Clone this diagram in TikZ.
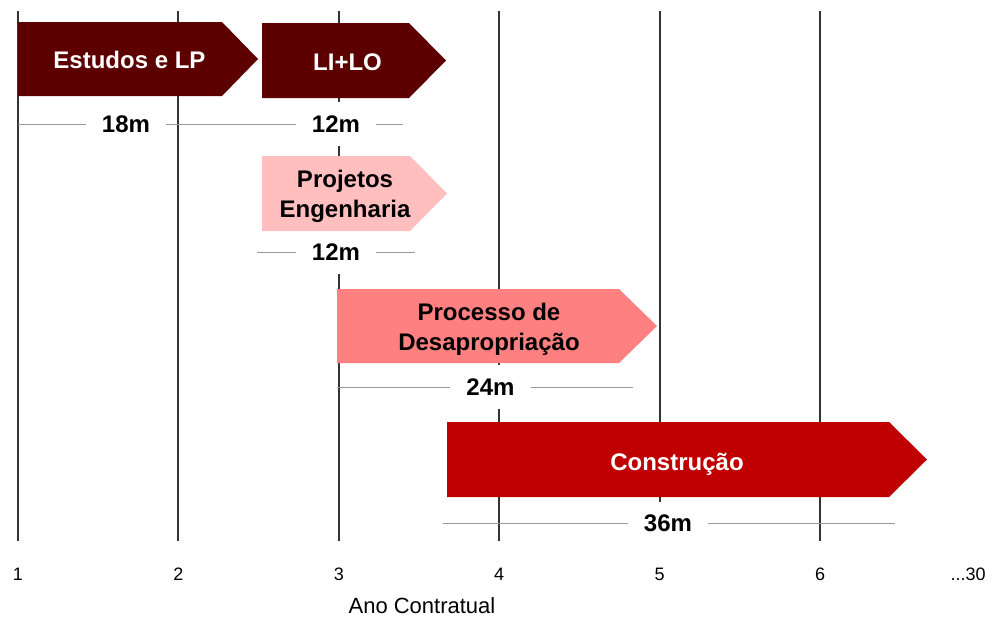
\documentclass[tikz,border=0pt]{standalone}
\usepackage{fontspec}
\setmainfont{Liberation Sans}
\usetikzlibrary{positioning}
\definecolor{wine}{HTML}{5C0000}
\definecolor{blush}{HTML}{FFBFBF}
\definecolor{salmon}{HTML}{FF8080}
\definecolor{crimson}{HTML}{C00000}
\definecolor{gridgray}{HTML}{333333}

\begin{document}
\begin{tikzpicture}[
    x=1pt, y=-1pt,
    gridline/.style={draw=gridgray, line width=2pt},
    durline/.style={draw=black!40, line width=0.8pt},
    phase/.style={align=center, font=\fontsize{24}{30}\selectfont\bfseries},
    dur/.style={fill=white, inner xsep=16pt, inner ysep=0pt,
                minimum height=44pt, font=\fontsize{24}{30}\selectfont\bfseries},
    yearlbl/.style={anchor=base, font=\fontsize{18}{20}\selectfont}
  ]
  \useasboundingbox (0,0) rectangle (995,619);

  % year grid
  \foreach \k in {1,...,6}
    \draw[gridline] ({18+160.4*(\k-1)},11) -- ({18+160.4*(\k-1)},541);

  % axis labels
  \foreach \k in {1,...,6}
    \node[yearlbl] (year\k) at ({18+160.4*(\k-1)},580) {\k};
  \node[yearlbl] (yearend) at (968,580) {...30};
  \node[anchor=base, font=\fontsize{22}{24}\selectfont] (axis) at (422,613)
        {Ano Contratual};

  % durations
  \coordinate (d18a) at (18,124);  \coordinate (d18b) at (258,124);
  \coordinate (d12a) at (258,124); \coordinate (d12b) at (403,124);
  \coordinate (e12a) at (257,252); \coordinate (e12b) at (415,252);
  \coordinate (d24a) at (337,387); \coordinate (d24b) at (633,387);
  \coordinate (d36a) at (443,523.5); \coordinate (d36b) at (895,523.5);
  \draw[durline] (d18a) -- (d18b);
  \draw[durline] (d12a) -- (d12b);
  \draw[durline] (e12a) -- (e12b);
  \draw[durline] (d24a) -- (d24b);
  \draw[durline] (d36a) -- (d36b);
  \node[dur] (m18)  at (126,124)   {18m};
  \node[dur] (m12)  at (336,124)   {12m};
  \node[dur] (n12)  at (336,252)   {12m};
  \node[dur] (m24)  at (490.5,387) {24m};
  \node[dur] (m36)  at (668,523.5) {36m};

  % phases
  \fill[wine] (18,22) -- (222,22) -- (258,59) -- (222,96) -- (18,96) -- cycle;
  \node[phase, text=white, anchor=base] (estudos) at (129.5,68) {Estudos e LP};

  \fill[wine] (262,23) -- (409,23) -- (446,60.5) -- (409,98) -- (262,98) -- cycle;
  \node[phase, text=white, anchor=base] (lilo) at (347.5,70) {LI+LO};

  \fill[blush] (262,156) -- (410,156) -- (447,193.5) -- (410,231) -- (262,231) -- cycle;
  \node[phase] (projetos) at (345,196) {Projetos\\Engenharia};

  \fill[salmon] (337,289) -- (619,289) -- (657,326) -- (619,363) -- (337,363) -- cycle;
  \node[phase] (processo) at (489,329) {Processo de\\Desapropriação};

  \fill[crimson] (447,422) -- (889,422) -- (927,459.5) -- (889,497) -- (447,497) -- cycle;
  \node[phase, text=white, anchor=base] (construcao) at (677,470) {Construção};
\end{tikzpicture}
\end{document}
